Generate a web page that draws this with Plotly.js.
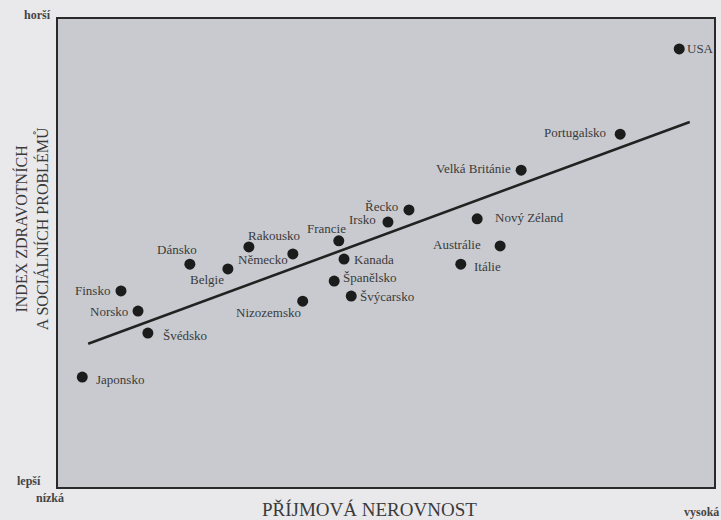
<!DOCTYPE html>
<html>
<head>
<meta charset="utf-8">
<script src="https://cdn.plot.ly/plotly-3.0.1.min.js"></script>
<style>
html,body{margin:0;padding:0;background:#e9e9ec;}
#chart{width:721px;height:520px;}
</style>
</head>
<body>
<div id="chart"></div>
<script>
// Data (arbitrary index units 0-100)
const countries = ["USA","Portugalsko","Velká Británie","Řecko","Irsko","Francie","Kanada","Španělsko","Švýcarsko","Nizozemsko","Německo","Rakousko","Belgie","Dánsko","Finsko","Norsko","Švédsko","Japonsko","Nový Zéland","Austrálie","Itálie"];
const inequality = [94.7,85.7,70.6,53.5,50.3,42.8,43.6,42.1,44.7,37.3,35.8,29.1,25.9,20.1,9.6,12.2,13.7,3.7,63.9,67.4,61.4];
const problems   = [93.6,75.4,67.7,59.2,56.6,52.6,48.7,44.0,40.8,39.7,49.8,51.3,46.6,47.6,41.9,37.6,32.9,23.5,57.3,51.5,47.6];
const trendX = [4.6, 96.3];
const trendY = [30.6, 78.0];

// Label placement styling: [xanchor, xshift, yshift]
const labelStyle = {
  "USA":["left",6,0],
  "Portugalsko":["right",-12,2],
  "Velká Británie":["right",-8,2],
  "Řecko":["right",-9,3],
  "Irsko":["right",-10,3],
  "Francie":["right",9,12],
  "Kanada":["left",8,0],
  "Španělsko":["left",7,4],
  "Švýcarsko":["left",7,0],
  "Nizozemsko":["right",0,-11],
  "Německo":["right",-3,-6],
  "Rakousko":["left",-3,11],
  "Belgie":["right",-2,-11],
  "Dánsko":["right",9,15],
  "Finsko":["right",-9,0],
  "Norsko":["right",-8,0],
  "Švédsko":["left",13,-2],
  "Japonsko":["left",12,-2],
  "Nový Zéland":["left",16,1],
  "Austrálie":["right",-17,1],
  "Itálie":["left",11,-2]
};

const serif = "Liberation Serif, DejaVu Serif, serif";
const txtColor = "#3a3a3a";

const annotations = countries.map((c,i)=>({
  x: inequality[i], y: problems[i], xref:"x", yref:"y",
  text: c, showarrow:false,
  xanchor: labelStyle[c][0], yanchor:"middle",
  xshift: labelStyle[c][1], yshift: labelStyle[c][2],
  font:{family:serif,size:13,color:txtColor}
}));

const corner = (text,x,y,xa,ya)=>({text,x,y,xref:"paper",yref:"paper",xanchor:xa,yanchor:ya,showarrow:false,font:{family:serif,size:12,color:"#444"}});
annotations.push(corner("<b>horší</b>",-0.008,1.008,"right","middle"));
annotations.push(corner("<b>lepší</b>",-0.023,0.013,"right","middle"));
annotations.push(corner("<b>nízká</b>",-0.036,-0.024,"left","middle"));
annotations.push(corner("<b>vysoká</b>",1.011,-0.054,"right","middle"));
annotations.push({
  text:"INDEX ZDRAVOTNÍCH<br>A SOCIÁLNÍCH PROBLÉMŮ", textangle:-90,
  x:-0.041, y:0.551, xref:"paper", yref:"paper", xanchor:"center", yanchor:"middle",
  showarrow:false, font:{family:serif,size:16,color:txtColor}
});
annotations.push({
  text:"PŘÍJMOVÁ NEROVNOST",
  x:0.475, y:-0.049, xref:"paper", yref:"paper", xanchor:"center", yanchor:"middle",
  showarrow:false, font:{family:serif,size:19,color:txtColor}
});

const traces = [
  {x:trendX, y:trendY, mode:"lines", line:{color:"#222",width:2.6}, hoverinfo:"skip"},
  {x:inequality, y:problems, mode:"markers", text:countries,
   marker:{size:11,color:"#1c1c1c"}}
];

const axis = {range:[0,100], showgrid:false, zeroline:false, showticklabels:false, ticks:"",
  showline:true, mirror:true, linecolor:"#2a2a2a", linewidth:2, fixedrange:true};

Plotly.newPlot("chart", traces, {
  width:721, height:520,
  margin:{l:58,r:7,t:19,b:33},
  paper_bgcolor:"#e9e9ec", plot_bgcolor:"#c9cacf",
  showlegend:false,
  xaxis:axis, yaxis:Object.assign({},axis),
  annotations
},{displayModeBar:false, staticPlot:true});
</script>
</body>
</html>
